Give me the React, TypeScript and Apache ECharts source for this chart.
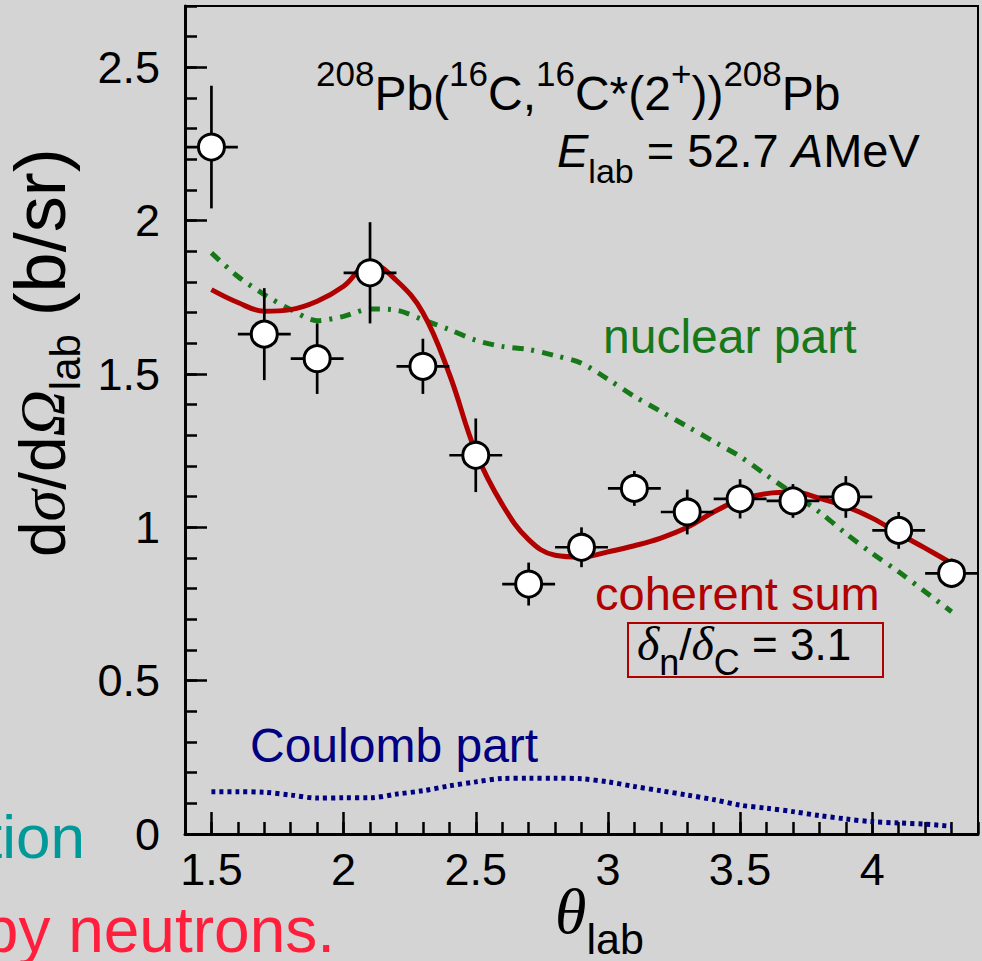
import React, { useEffect, useRef } from 'react';
import * as echarts from 'echarts';

// ---------- data ----------
const thetaExp = [1.5, 1.7, 1.9, 2.1, 2.3, 2.5, 2.7, 2.9, 3.1, 3.3, 3.5, 3.7, 3.9, 4.1, 4.3];
const sigmaExp = [2.24, 1.63, 1.55, 1.83, 1.525, 1.235, 0.815, 0.935, 1.127, 1.05, 1.093, 1.086, 1.099, 0.99, 0.85];
const sigmaErr = [0.2, 0.15, 0.115, 0.165, 0.09, 0.12, 0.07, 0.065, 0.057, 0.073, 0.064, 0.055, 0.068, 0.06, 0.048];
const thetaErr = [0.1, 0.1, 0.1, 0.1, 0.1, 0.1, 0.1, 0.1, 0.1, 0.1, 0.1, 0.1, 0.1, 0.1, 0.1];

const thetaCalc = [1.5, 1.6, 1.7, 1.8, 1.9, 2.0, 2.1, 2.2, 2.3, 2.4, 2.5, 2.6, 2.7, 2.8, 2.9, 3.0, 3.1, 3.2, 3.3, 3.4, 3.5, 3.6, 3.7, 3.8, 3.9, 4.0, 4.1, 4.2, 4.3];
const coherentSum = [1.775, 1.733, 1.705, 1.71, 1.737, 1.786, 1.86, 1.805, 1.7, 1.5, 1.245, 1.075, 0.96, 0.909, 0.903, 0.92, 0.94, 0.965, 1.0, 1.05, 1.09, 1.11, 1.115, 1.095, 1.068, 1.03, 0.98, 0.932, 0.883];
const nuclearPart = [1.895, 1.818, 1.759, 1.71, 1.674, 1.688, 1.712, 1.708, 1.677, 1.645, 1.61, 1.59, 1.58, 1.56, 1.535, 1.483, 1.427, 1.378, 1.329, 1.28, 1.231, 1.17, 1.11, 1.05, 0.98, 0.915, 0.855, 0.79, 0.725];
const coulombPart = [0.138, 0.138, 0.136, 0.127, 0.117, 0.118, 0.118, 0.13, 0.141, 0.157, 0.17, 0.181, 0.182, 0.182, 0.18, 0.17, 0.155, 0.141, 0.127, 0.112, 0.094, 0.084, 0.073, 0.06, 0.049, 0.04, 0.036, 0.032, 0.025];

const xMajorTicks = [1.5, 2, 2.5, 3, 3.5, 4];
const yMajorTicks = [0, 0.5, 1, 1.5, 2, 2.5];

// ---------- styling ----------
const SANS = '"Liberation Sans", Arial, sans-serif';
const SERIF = '"Liberation Serif", "Times New Roman", serif';
const RED = '#b00000';
const GREEN = '#17781a';
const NAVY = '#000080';

type Piece = { t: string; fs: number; dy?: number; it?: boolean; serif?: boolean; color?: string };

let measureCtx: CanvasRenderingContext2D | null = null;
function textWidth(t: string, fs: number, it: boolean, serif: boolean): number {
  if (!measureCtx) measureCtx = document.createElement('canvas').getContext('2d');
  if (!measureCtx) return t.length * fs * 0.55;
  measureCtx.font = `${it ? 'italic ' : ''}${fs}px ${serif ? SERIF : SANS}`;
  return measureCtx.measureText(t).width;
}

function row(x0: number, base: number, pieces: Piece[], color: string): any[] {
  let x = x0;
  return pieces.map((p) => {
    const el = {
      type: 'text',
      x,
      y: base + (p.dy || 0) - 0.345 * p.fs,
      silent: true,
      style: {
        text: p.t,
        fontSize: p.fs,
        fontFamily: p.serif ? SERIF : SANS,
        fontStyle: p.it ? 'italic' : 'normal',
        fill: p.color || color,
        align: 'left',
        verticalAlign: 'middle',
      },
    };
    x += textWidth(p.t, p.fs, !!p.it, !!p.serif);
    return el;
  });
}

export default function App() {
  const ref = useRef<HTMLDivElement>(null);

  useEffect(() => {
    if (!ref.current) return;
    const chart = echarts.init(ref.current, undefined, { renderer: 'svg' });

    const expData = thetaExp.map((x, i) => [x, sigmaExp[i], thetaErr[i], sigmaErr[i]]);
    const sumData = thetaCalc.map((x, i) => [x, coherentSum[i]]);
    const nucData = thetaCalc.map((x, i) => [x, nuclearPart[i]]);
    const coulData = thetaCalc.map((x, i) => [x, coulombPart[i]]);

    const tickStyle = { color: '#000', width: 2.5 };

    const graphics: any[] = [
      // title line 1
      ...row(316, 110, [
        { t: '208', fs: 35, dy: -24 },
        { t: 'Pb(', fs: 48 },
        { t: '16', fs: 35, dy: -24 },
        { t: 'C,', fs: 48 },
        { t: '16', fs: 35, dy: -24 },
        { t: 'C*(2', fs: 48 },
        { t: '+', fs: 35, dy: -24 },
        { t: '))', fs: 48 },
        { t: '208', fs: 35, dy: -24 },
        { t: 'Pb', fs: 48 },
      ], '#000'),
      // title line 2
      ...row(557, 167, [
        { t: 'E', fs: 47, it: true },
        { t: 'lab', fs: 34, dy: 16 },
        { t: ' = 52.7 ', fs: 47 },
        { t: 'A', fs: 47, it: true },
        { t: 'MeV', fs: 47 },
      ], '#000'),
      // curve labels
      ...row(603, 353, [{ t: 'nuclear part', fs: 48 }], GREEN),
      ...row(595, 610, [{ t: 'coherent sum', fs: 47 }], RED),
      ...row(250, 762, [{ t: 'Coulomb part', fs: 48 }], NAVY),
      // delta ratio box
      {
        type: 'rect',
        silent: true,
        shape: { x: 628, y: 623, width: 255, height: 54 },
        style: { fill: 'none', stroke: RED, lineWidth: 2 },
      },
      ...row(637, 660, [
        { t: 'δ', fs: 48, it: true, serif: true },
        { t: 'n', fs: 36, dy: 15 },
        { t: '/', fs: 44 },
        { t: 'δ', fs: 48, it: true, serif: true },
        { t: 'C', fs: 36, dy: 15 },
        { t: ' = 3.1', fs: 44 },
      ], '#000'),
      // x axis title
      ...row(555, 934, [
        { t: 'θ', fs: 64, it: true, serif: true },
        { t: 'lab', fs: 43, dy: 20 },
      ], '#000'),
      // y axis title (rotated)
      {
        type: 'group',
        x: 65,
        y: 557,
        rotation: Math.PI / 2,
        silent: true,
        children: row(0, 0, [
          { t: 'd', fs: 64 },
          { t: 'σ', fs: 64, it: true, serif: true },
          { t: '/d', fs: 64 },
          { t: 'Ω', fs: 64, it: true, serif: true },
          { t: 'lab', fs: 42, dy: 15 },
          { t: ' ', fs: 64 },
          { t: '(b/sr)', fs: 72 },
        ], '#000'),
      },
      // slide text cut off by the left edge
      {
        type: 'text',
        silent: true,
        x: 85,
        y: 858 - 0.345 * 62,
        style: { text: 'tion', fontSize: 62, fontFamily: SANS, fill: '#009999', align: 'right', verticalAlign: 'middle' },
      },
      {
        type: 'text',
        silent: true,
        x: 335,
        y: 952 - 0.345 * 64,
        style: { text: 'by neutrons.', fontSize: 64, fontFamily: SANS, fill: '#ff1f3d', align: 'right', verticalAlign: 'middle' },
      },
    ];

    chart.setOption({
      animation: false,
      backgroundColor: '#d4d4d4',
      grid: {
        left: 185,
        right: 4,
        top: 6,
        bottom: 127,
        show: true,
        borderColor: '#000',
        borderWidth: 2,
        backgroundColor: 'transparent',
      },
      xAxis: [
        {
          type: 'value',
          min: 1.4,
          max: 4.4,
          interval: 0.1,
          axisLine: { show: true, onZero: false, lineStyle: { color: '#000', width: 3 } },
          axisTick: { show: true, inside: true, length: 12, lineStyle: tickStyle },
          axisLabel: { show: false },
          splitLine: { show: false },
        },
        {
          type: 'value',
          min: 1.4,
          max: 4.4,
          position: 'bottom',
          axisLine: { show: false },
          axisTick: { show: true, inside: true, length: 22, customValues: xMajorTicks, lineStyle: tickStyle },
          axisLabel: {
            show: true,
            customValues: xMajorTicks,
            fontSize: 45,
            fontFamily: SANS,
            color: '#000',
            margin: 13,
          },
          splitLine: { show: false },
        },
      ],
      yAxis: [
        {
          type: 'value',
          min: 0,
          max: 2.7,
          interval: 0.1,
          axisLine: { show: true, onZero: false, lineStyle: { color: '#000', width: 3 } },
          axisTick: { show: true, inside: true, length: 12, lineStyle: tickStyle },
          axisLabel: { show: false },
          splitLine: { show: false },
        },
        {
          type: 'value',
          min: 0,
          max: 2.7,
          position: 'left',
          axisLine: { show: false },
          axisTick: { show: true, inside: true, length: 22, customValues: yMajorTicks, lineStyle: tickStyle },
          axisLabel: {
            show: true,
            customValues: yMajorTicks,
            fontSize: 45,
            fontFamily: SANS,
            color: '#000',
            margin: 25,
          },
          splitLine: { show: false },
        },
      ],
      series: [
        {
          type: 'line',
          data: coulData,
          smooth: 0.3,
          showSymbol: false,
          lineStyle: { color: NAVY, width: 5, type: [4, 4], cap: 'butt' },
          z: 2,
        },
        {
          type: 'line',
          data: nucData,
          smooth: 0.3,
          showSymbol: false,
          lineStyle: { color: GREEN, width: 5, type: [11, 8, 3, 8], cap: 'butt' },
          z: 2,
        },
        {
          type: 'line',
          data: sumData,
          smooth: 0.4,
          showSymbol: false,
          lineStyle: { color: RED, width: 5 },
          z: 3,
        },
        {
          type: 'custom',
          data: expData,
          encode: { x: 0, y: 1 },
          z: 4,
          renderItem: (params: any, api: any) => {
            const x = api.value(0);
            const y = api.value(1);
            const ex = api.value(2);
            const ey = api.value(3);
            const c = api.coord([x, y]);
            const l = api.coord([x - ex, y]);
            const r = api.coord([x + ex, y]);
            const t = api.coord([x, y + ey]);
            const b = api.coord([x, y - ey]);
            const st = { stroke: '#000', lineWidth: 2.7 };
            return {
              type: 'group',
              children: [
                { type: 'line', shape: { x1: l[0], y1: c[1], x2: r[0], y2: c[1] }, style: st },
                { type: 'line', shape: { x1: c[0], y1: t[1], x2: c[0], y2: b[1] }, style: st },
              ],
            };
          },
        },
        {
          type: 'scatter',
          data: expData.map((d) => [d[0], d[1]]),
          symbol: 'circle',
          symbolSize: 26,
          itemStyle: { color: '#fff', borderColor: '#000', borderWidth: 3, opacity: 1 },
          z: 5,
        },
      ],
      graphic: { elements: graphics },
    });

    return () => chart.dispose();
  }, []);

  return (
    <div
      ref={ref}
      style={{ position: 'absolute', left: 0, top: 0, width: 982, height: 961 }}
    />
  );
}
